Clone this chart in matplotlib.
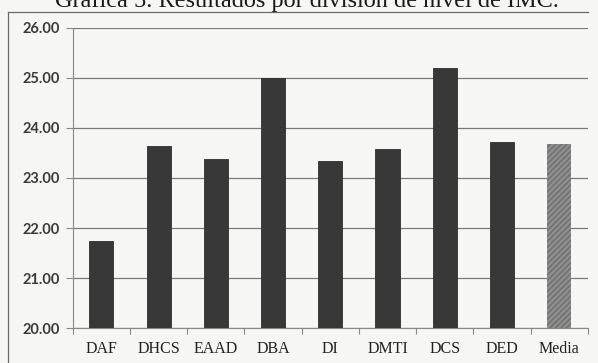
import numpy as np
import matplotlib
matplotlib.use('Agg')
import matplotlib.pyplot as plt
from matplotlib.lines import Line2D

# Resultados de IMC promedio por division
divisiones = ['DAF', 'DHCS', 'EAAD', 'DBA', 'DI', 'DMTI', 'DCS', 'DED', 'Media']
imc = [21.75, 23.63, 23.38, 24.99, 23.33, 23.57, 25.19, 23.71, 23.68]
yticks = [20, 21, 22, 23, 24, 25, 26]

fondo = '#f6f6f4'
fig = plt.figure(figsize=(5.98, 3.63), dpi=100, facecolor=fondo)
ax = fig.add_axes([0.1216, 0.0964, 0.8614, 0.8265])
ax.set_facecolor(fondo)

x = np.arange(len(divisiones))
colores = ['#383838'] * (len(divisiones) - 1) + ['#8e8e8e']
barras = ax.bar(x, np.array(imc) - 20, bottom=20, width=0.42, color=colores,
                edgecolor='#2e2e2e', linewidth=0.6, zorder=3)
# la barra de la media va rayada
barras[-1].set_hatch('//////')
barras[-1].set_edgecolor('#6e6e6e')
barras[-1].set_linewidth(0)

ax.set_xlim(-0.5, len(divisiones) - 0.5)
ax.set_ylim(20, 26)
ax.set_yticks(yticks)
ax.set_yticklabels(['%.2f' % v for v in yticks], fontsize=10.5,
                   family='Lato', fontweight='bold', color='#3a3a3a')
ax.set_xticks(x)
ax.set_xticklabels(divisiones, fontsize=11.5, family='Liberation Serif',
                   color='#222222')
ax.set_xticks(np.arange(len(divisiones) + 1) - 0.5, minor=True)
ax.tick_params(axis='x', which='major', length=0, pad=9)
ax.tick_params(axis='x', which='minor', length=4, color='#888888', width=0.8)
ax.tick_params(axis='y', length=5, color='#888888', width=0.8, pad=4)

ax.grid(axis='y', color='#7a7a7a', linewidth=0.9, zorder=0)
for lado in ['top', 'right']:
    ax.spines[lado].set_visible(False)
ax.spines['left'].set_color('#888888')
ax.spines['bottom'].set_color('#888888')
ax.spines['left'].set_linewidth(0.8)
ax.spines['bottom'].set_linewidth(0.8)

# marco de la grafica
fig.add_artist(Line2D([8 / 598, 8 / 598], [0, 1 - 12 / 363], color='#6a6a6a', lw=0.9))
fig.add_artist(Line2D([8 / 598, 588 / 598], [1 - 12 / 363, 1 - 12 / 363], color='#6a6a6a', lw=0.9))

# titulo (queda recortado por arriba)
fig.text(307 / 598, 1 - 7 / 363, 'Gráfica 5. Resultados por división de nivel de IMC.',
         ha='center', va='baseline', fontsize=17.5, family='Liberation Serif', color='#1a1a1a')

plt.savefig('out.png', dpi=100, facecolor=fondo)
